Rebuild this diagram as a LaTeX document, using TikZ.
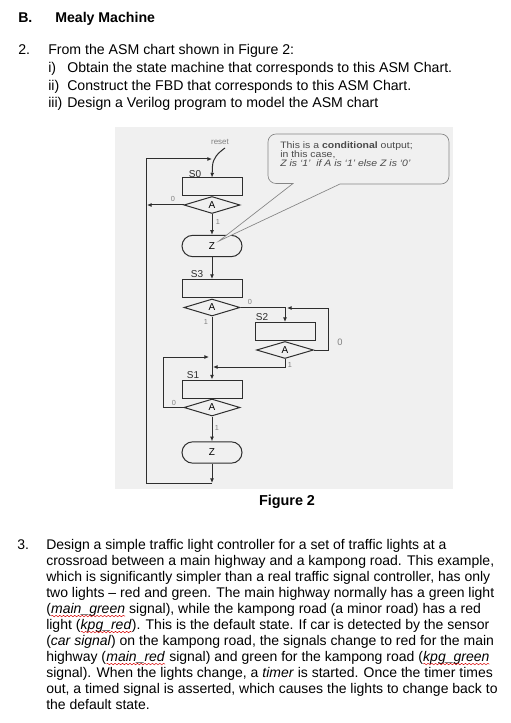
\documentclass[tikz,border=0pt]{standalone}
\usepackage{fontspec}
\setmainfont{Liberation Sans}
\newfontfamily\callfont[FakeStretch=1.12]{Liberation Sans}
\usetikzlibrary{shapes.geometric,arrows.meta,decorations.pathmorphing}
\newcommand\spellerr[1]{\tikz[baseline=(w.base)]{\node[inner sep=0,outer sep=0,anchor=base](w){#1};\draw[red!85!black,line width=0.35pt,decorate,decoration={snake,amplitude=0.55pt,segment length=2.8pt}]([yshift=-1.9pt]w.base west)--([yshift=-1.9pt]w.base east);}}
\definecolor{figline}{HTML}{2E2E2E}
\definecolor{photobg}{HTML}{F0F0F0}
\definecolor{calline}{HTML}{858585}
\definecolor{caltext}{HTML}{4A4A4A}
\begin{document}
\begin{tikzpicture}[x=0.75pt,y=-0.75pt,
  txt/.style={anchor=base west,inner sep=0,font=\fontsize{10.5}{12}\selectfont},
  toptxt/.style={anchor=base west,inner sep=0,font=\fontsize{10.6}{13}\selectfont},
  headtxt/.style={anchor=base west,inner sep=0,font=\fontsize{10.6}{13}\selectfont\bfseries},
  state/.style={draw=figline,line width=0.75pt,minimum width=45pt,minimum height=13.5pt,inner sep=0},
  dec/.style={diamond,draw=figline,line width=0.75pt,minimum width=42pt,minimum height=12.75pt,inner sep=0,font=\fontsize{7.5}{8}\selectfont},
  outbox/.style={draw=figline,line width=0.75pt,rounded corners=8pt,minimum width=45pt,minimum height=16pt,inner sep=0,font=\fontsize{7.5}{8}\selectfont},
  slabel/.style={inner sep=0,font=\fontsize{7.5}{8}\selectfont,text=figline},
  blabel/.style={inner sep=0,font=\fontsize{5.5}{6}\selectfont,text=gray},
  conn/.style={draw=figline,line width=0.75pt},
  arr/.style={conn,-{Latex[length=3.5pt,width=3pt]}},
  calltxt/.style={anchor=base west,inner sep=0,font=\callfont\fontsize{7}{8}\selectfont,text=caltext}
]
\useasboundingbox (0,0) rectangle (510,723);
\fill[white] (0,0) rectangle (510,723);
% photo background
\fill[photobg] (115,127) rectangle (453,489);

% ---- top text
\node[headtxt] (hB) at (18,23) {B.};
\node[headtxt] (hM) at (55,23) {Mealy Machine};
\node[toptxt] (n2) at (18,55) {2.};
\node[toptxt] (q2) at (48,55) {From the ASM chart shown in Figure 2:};
\node[toptxt] (i1) at (48,73) {i)};
\node[toptxt] (t1) at (67,73) {Obtain the state machine that corresponds to this ASM Chart.};
\node[toptxt] (i2) at (48,90.5) {ii)};
\node[toptxt] (t2) at (67,90.5) {Construct the FBD that corresponds to this ASM Chart.};
\node[toptxt] (i3) at (48,108) {iii)};
\node[toptxt] (t3) at (67,108) {Design a Verilog program to model the ASM chart};

% ---- figure
\node[state] (S0) at (212,187) {};
\node[dec] (d0) at (212,205) {A};
\node[outbox] (Z1) at (212,246) {Z};
\node[state] (S3) at (212,288.5) {};
\node[dec] (d3) at (212,307.5) {A};
\node[state] (S2) at (285,331.5) {};
\node[dec,minimum width=42.75pt] (d2) at (285,350) {A};
\node[state] (S1) at (212,389) {};
\node[dec] (d1) at (212,407.5) {A};
\node[outbox] (Z2) at (212,452.5) {Z};

\node[slabel] (lS0) at (195,174) {S0};
\node[slabel] (lS3) at (197,274) {S3};
\node[slabel] (lS2) at (262,317) {S2};
\node[slabel] (lS1) at (193,375) {S1};

% reset
\node[inner sep=0,font=\fontsize{6}{7}\selectfont,text=gray] (reset) at (220,142) {reset};
\coordinate (rs) at (225,148);
\coordinate (rk) at (212.5,166);
\draw[conn] (rs) .. controls (218,153) and (213,158) .. (rk);
\draw[arr] (rk) -- (S0.north);

% loop back to top
\coordinate (b1) at (212,483);
\coordinate (bl) at (146,483);
\coordinate (tl) at (146,159);
\coordinate (j0) at (212,159);
\draw[arr] (Z2.south) -- (b1);
\draw[arr] (b1) -- (bl) -- (tl) -- (j0);

% S0 branches
\coordinate (l0) at (147,205);
\draw[arr] (d0.west) -- (l0);
\node[blabel] (z0a) at (173,199) {0};
\draw[arr] (d0.south) -- (Z1.north);
\node[blabel] (o0a) at (218,222) {1};
\draw[arr] (Z1.south) -- (S3.north);

% S3 branches
\coordinate (c3) at (285,307.5);
\draw[arr] (d3.east) -- (c3) -- (S2.north);
\node[blabel] (z3) at (250,302) {0};
\draw[arr] (d3.south) -- (S1.north);
\node[blabel] (o3) at (206,322) {1};

% S2 branches
\coordinate (c2a) at (328,350);
\coordinate (c2b) at (328,308);
\coordinate (c2c) at (287,308);
\draw[arr] (d2.east) -- (c2a) -- (c2b) -- (c2c);
\node[blabel,font=\fontsize{7}{8}\selectfont] (z2) at (340,342) {0};
\coordinate (c2d) at (285,367);
\coordinate (c2e) at (213,367);
\draw[arr] (d2.south) -- (c2d) -- (c2e);
\node[blabel] (o2) at (290,365) {1};

% S1 branches
\coordinate (c1a) at (163,407.5);
\coordinate (c1b) at (163,357);
\coordinate (c1c) at (209,357);
\draw[arr] (d1.west) -- (c1a) -- (c1b) -- (c1c);
\node[blabel] (z1) at (174,403) {0};
\draw[arr] (d1.south) -- (Z2.north);
\node[blabel] (o1) at (217,428) {1};

% callout
\coordinate (tip) at (219,241);
\draw[draw=calline,line width=0.5pt,fill=photobg]
  (293,183.5) -- (276,183.5) arc[start angle=90,end angle=180,radius=8]
  -- (268,142) arc[start angle=180,end angle=270,radius=8]
  -- (441,134) arc[start angle=270,end angle=360,radius=8]
  -- (449,176) arc[start angle=0,end angle=90,radius=8]
  -- (340,184) -- (tip) -- cycle;
\node[calltxt] (c1) at (280,148.5) {This is a \textbf{conditional} output;};
\node[calltxt] (c2) at (280,157.5) {in this case,};
\node[calltxt] (c3t) at (280,167) {\itshape Z is ‘1’\ \ if A is ‘1’ else Z is ‘0’};

\node[anchor=base,inner sep=0,font=\fontsize{10.8}{13}\selectfont\bfseries] (cap) at (287,505) {Figure 2};

% ---- question 3
\node[txt] (n3) at (17,549.5) {3.};
\node[txt] (p1) at (46,549.5) {Design a simple traffic light controller for a set of traffic lights at a};
\node[txt] (p2) at (46,565.5) {crossroad between a main highway and a kampong road. This example,};
\node[txt] (p3) at (46,581.5) {which is significantly simpler than a real traffic signal controller, has only};
\node[txt] (p4) at (46,597.5) {two lights – red and green. The main highway normally has a green light};
\node[txt] (p5) at (46,613.5) {(\spellerr{\textit{main\_green}} signal), while the kampong road (a minor road) has a red};
\node[txt] (p6) at (46,629.5) {light (\spellerr{\textit{kpg\_red}}). This is the default state. If car is detected by the sensor};
\node[txt] (p7) at (46,645.5) {(\textit{car signal}) on the kampong road, the signals change to red for the main};
\node[txt] (p8) at (46,661.5) {highway (\spellerr{\textit{main\_red}} signal) and green for the kampong road (\spellerr{\textit{kpg\_green}}};
\node[txt] (p9) at (46,677.5) {signal). When the lights change, a \textit{timer} is started. Once the timer times};
\node[txt] (p10) at (46,693.5) {out, a timed signal is asserted, which causes the lights to change back to};
\node[txt] (p11) at (46,709.5) {the default state.};
\end{tikzpicture}
\end{document}
